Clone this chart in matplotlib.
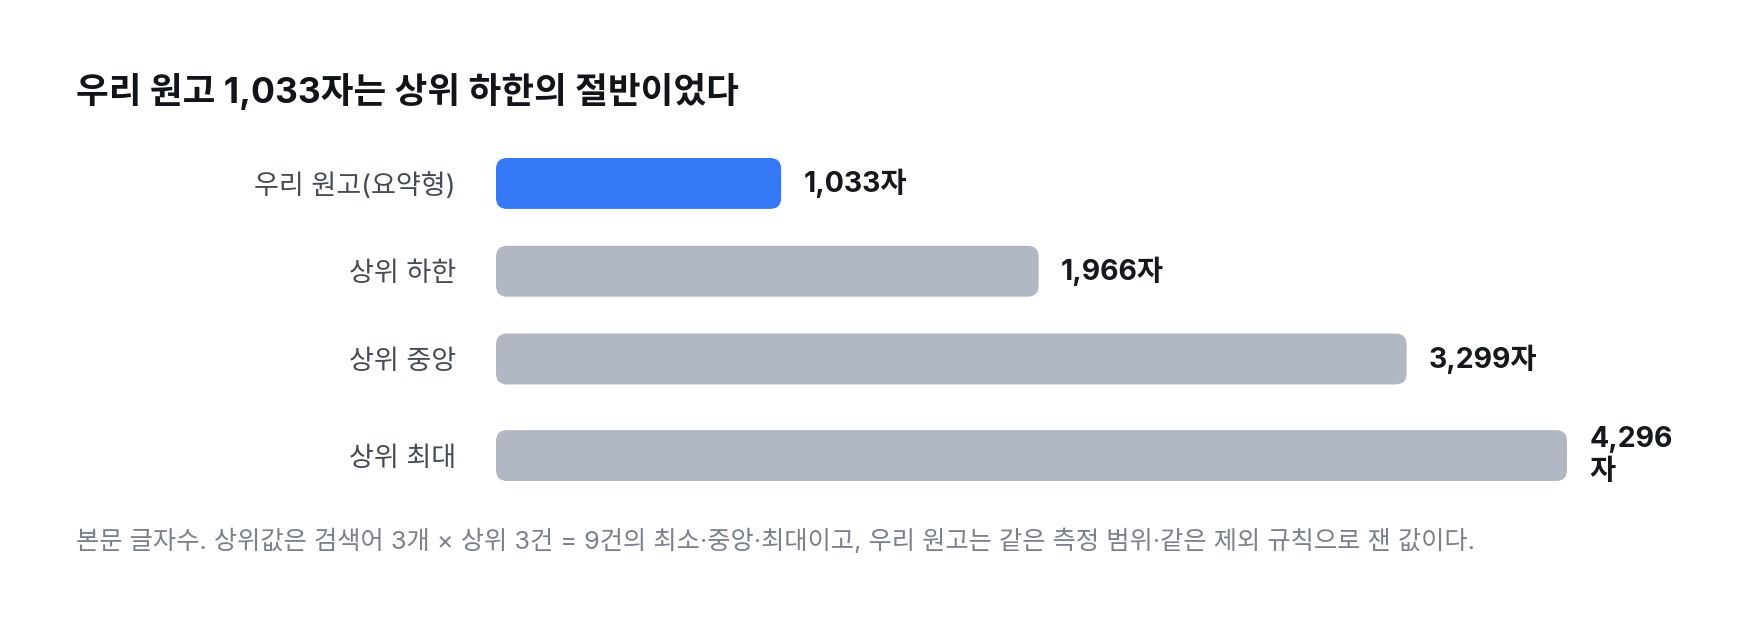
import matplotlib
matplotlib.use("Agg")
import matplotlib.pyplot as plt
from matplotlib.patches import FancyBboxPatch

# Inter for latin/digits, Noto for hangul
plt.rcParams['font.family'] = ['Inter', 'Noto Sans CJK KR', 'DejaVu Sans']

categories = ["우리 원고(요약형)", "상위 하한", "상위 중앙", "상위 최대"]
values = [1033, 1966, 3299, 4296]
bar_colors = ["#3478f6", "#b1b8c3", "#b1b8c3", "#b1b8c3"]
title = "우리 원고 1,033자는 상위 하한의 절반이었다"
note = ("본문 글자수. 상위값은 검색어 3개 × 상위 3건 = 9건의 최소·중앙·최대이고, "
        "우리 원고는 같은 측정 범위·같은 제외 규칙으로 잰 값이다.")

# layout
W, H, DPI = 1760, 624, 100
row_pos = [0, 1, 2, 3.1]     # last row is taller because its label wraps
bar_h = 0.58
x_max = 3880                 # visible width of the track, longer bars get capped

fig = plt.figure(figsize=(W / DPI, H / DPI), dpi=DPI)
ax = fig.add_axes([496 / W, 1 - 481 / H, (1567 - 496) / W, 323 / H])
ax.set_xlim(0, x_max)
ax.set_ylim(row_pos[-1] + bar_h / 2, row_pos[0] - bar_h / 2)

# pixel scale for round corners
px_x = ax.transData.transform((1, 0))[0] - ax.transData.transform((0, 0))[0]
px_y = ax.transData.transform((0, 0))[1] - ax.transData.transform((0, 1))[1]
radius = 11 / px_x

for y, v, c in zip(row_pos, values, bar_colors):
    w = min(v, x_max)
    box = FancyBboxPatch((0, y - bar_h / 2), w, bar_h,
                         boxstyle="round,pad=0,rounding_size=%f" % radius,
                         mutation_aspect=px_x / px_y,
                         facecolor=c, edgecolor="none")
    ax.add_patch(box)
    label = "{:,}자".format(v) if v <= x_max else "{:,}\n자".format(v)
    ax.annotate(label, xy=(w, y), xytext=(16, 0), textcoords="offset points",
                va="center", ha="left", fontsize=20.5, fontweight="bold",
                color="#15181d", linespacing=1.2)

ax.set_yticks(row_pos)
ax.set_yticklabels(categories, fontsize=19.5, color="#454b55")
ax.tick_params(axis="y", length=0, pad=29)
ax.set_xticks([])
for s in ax.spines.values():
    s.set_visible(False)

fig.text(76 / W, 1 - 91 / H, title, fontsize=25.6, fontweight="bold",
         color="#111418", va="center", ha="left")
fig.text(76 / W, 1 - 541 / H, note, fontsize=18.2, color="#7b818c",
         va="center", ha="left")

fig.savefig("out.png", dpi=DPI, facecolor="white")
